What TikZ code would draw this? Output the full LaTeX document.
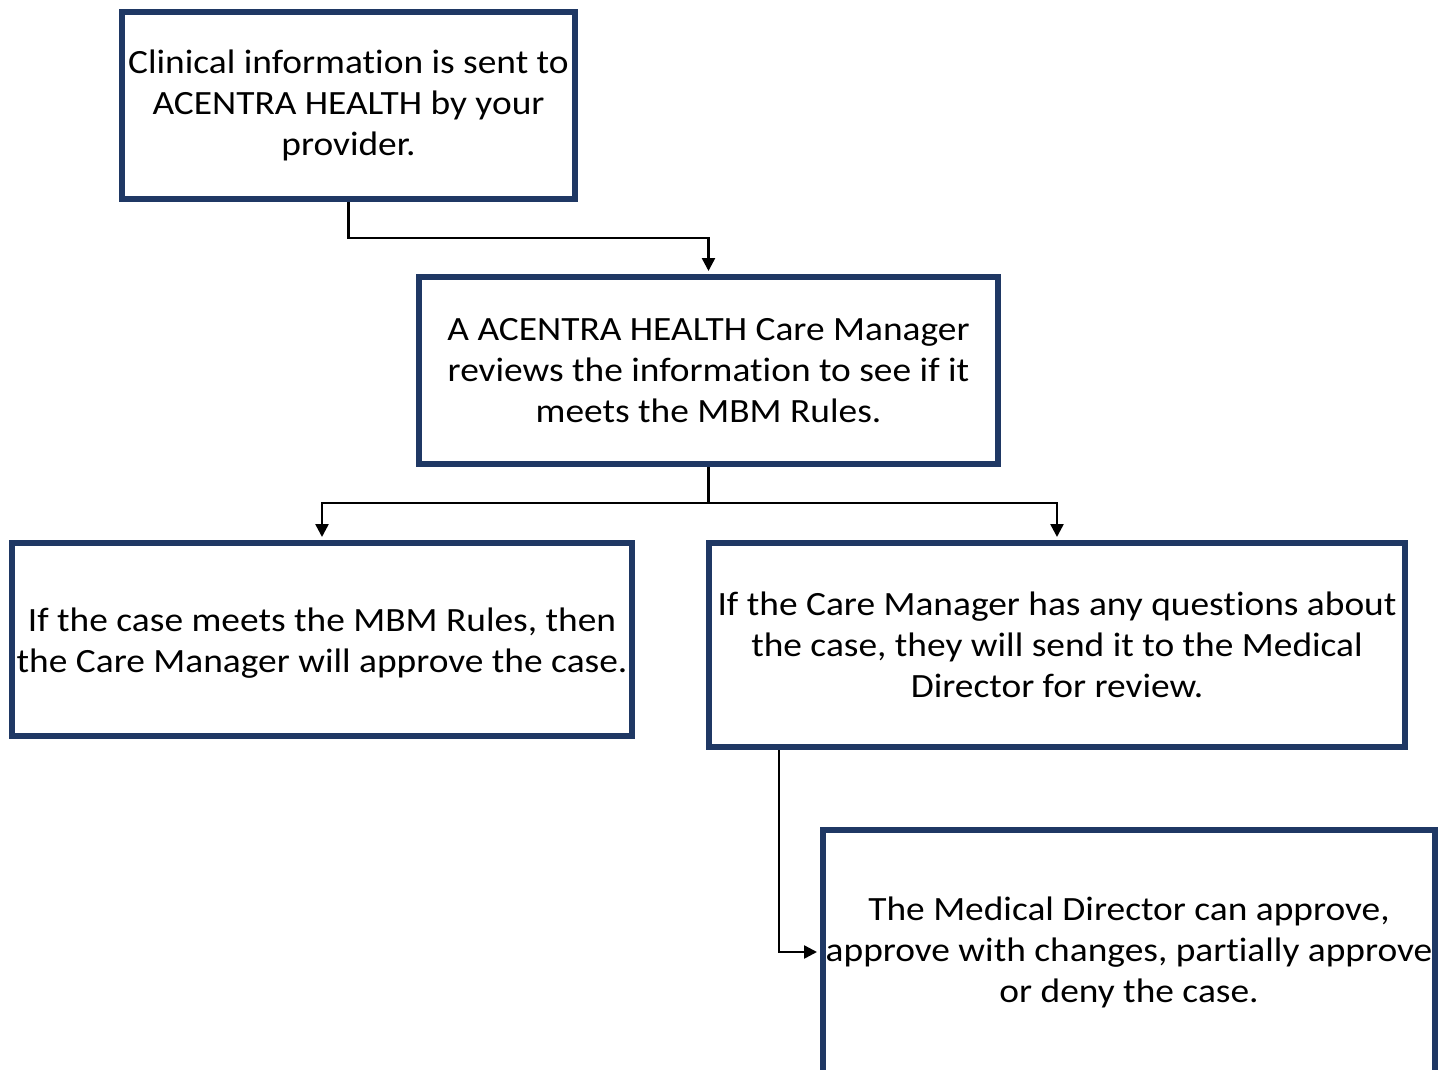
\documentclass[tikz,border=0pt]{standalone}
\usepackage{fontspec}
\setmainfont{Carlito}[Ligatures=NoCommon,FakeStretch=1.1]
\usetikzlibrary{arrows.meta}
\definecolor{boxnavy}{HTML}{1F3864}
\begin{document}
\begin{tikzpicture}[x=1pt,y=-1pt,
  box/.style={draw=boxnavy,line width=6pt,fill=white,inner sep=0pt,align=center,
    font=\fontsize{34}{41}\selectfont},
  arr/.style={draw=black,line width=2.5pt,-{Triangle[length=13pt,width=13pt]},shorten >=3pt}]
\useasboundingbox (0,0) rectangle (1438,1070);
\node[box,minimum width=453pt,minimum height=187pt] (b1) at (348.5,105.5)
  {Clinical information is sent to\\ACENTRA HEALTH by your\\provider.};
\node[box,minimum width=579pt,minimum height=187pt] (b2) at (708.5,370.5)
  {A ACENTRA HEALTH Care Manager\\reviews the information to see if it\\meets the MBM Rules.};
\node[box,minimum width=620pt,minimum height=193pt] (b3) at (322,639.5)
  {\raisebox{-4pt}[\height][\depth]{\begin{tabular}{@{}c@{}}If the case meets the MBM Rules, then\\the Care Manager will approve the case.\end{tabular}}};
\node[box,minimum width=696pt,minimum height=204pt] (b4) at (1057,645)
  {If the Care Manager has any questions about\\the case, they will send it to the Medical\\Director for review.};
\node[box,minimum width=612pt,minimum height=244pt] (b5) at (1129,952)
  {The Medical Director can approve,\\approve with changes, partially approve\\or deny the case.};
\draw[arr] (b1.south) -- ++(0,36) -| (b2.north);
\draw[arr] (b2.south) -- ++(0,36) -| (b3.north);
\draw[arr] (b2.south) -- ++(0,36) -| (b4.north);
\coordinate (c4) at ([xshift=73pt]b4.south west);
\draw[arr] (c4) |- (b5.west);
\end{tikzpicture}
\end{document}
